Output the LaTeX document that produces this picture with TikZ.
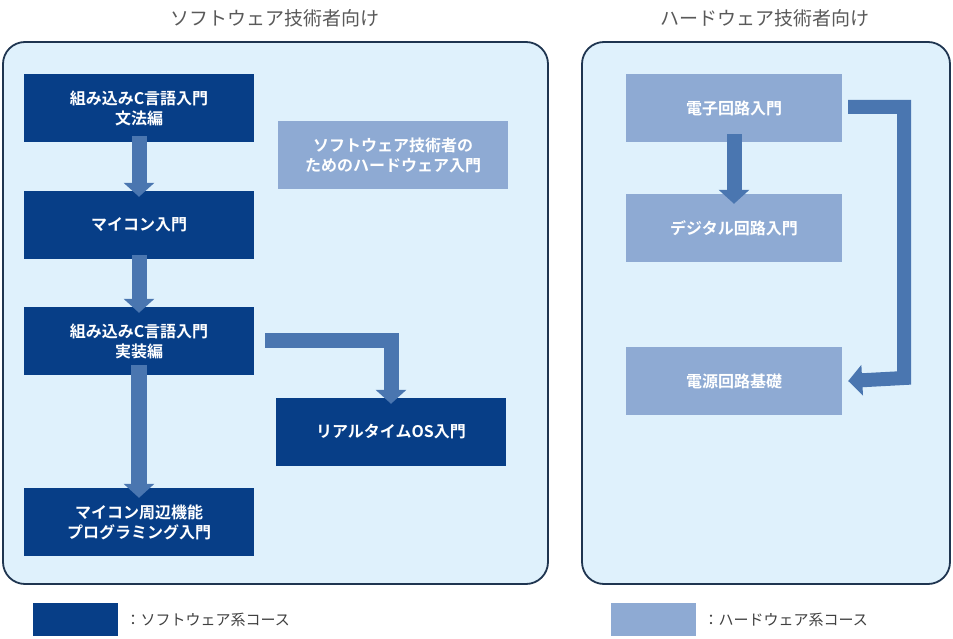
\documentclass[tikz,border=0pt]{standalone}
\usepackage{fontspec}
\newfontfamily\jp{Noto Sans CJK JP}
\newfontfamily\jpb{Noto Sans CJK JP Bold}
\usetikzlibrary{arrows.meta}
\definecolor{dk}{HTML}{073E87}
\definecolor{lt}{HTML}{8EAAD3}
\definecolor{ar}{HTML}{4A76B0}
\definecolor{pn}{HTML}{DFF1FC}
\definecolor{pb}{HTML}{1F3550}
\begin{document}
\begin{tikzpicture}[x=1pt,y=-1pt,
 panel/.style={draw=pb,line width=1.8pt,fill=pn,rounded corners=22pt},
 box/.style={minimum width=230pt,minimum height=68pt,align=center,text=white,font=\jpb\fontsize{16}{20}\selectfont,inner sep=0pt},
 dbox/.style={box,fill=dk},
 lbox/.style={box,fill=lt},
 barrow/.style={draw=ar,line width=15pt,-{Triangle[width=30pt,length=14pt]}},
 ttl/.style={text=black!65,font=\jp\fontsize{19}{22}\selectfont},
 leg/.style={text=black!75,font=\jp\fontsize{15}{18}\selectfont,anchor=west}]
\useasboundingbox (0,0) rectangle (953,639);
\draw[panel] (3,42) rectangle (548,584);
\draw[panel] (582,42) rectangle (950,584);
\node[ttl] (t1) at (275,18) {ソフトウェア技術者向け};
\node[ttl] (t2) at (765,18) {ハードウェア技術者向け};
\node[dbox] (a) at (139,108) {組み込みC言語入門\\文法編};
\node[dbox] (b) at (139,225) {マイコン入門};
\node[dbox] (c) at (139,341) {組み込みC言語入門\\実装編};
\node[dbox] (d) at (139,522) {マイコン周辺機能\\プログラミング入門};
\node[dbox] (e) at (391,432) {リアルタイムOS入門};
\node[lbox] (f) at (393,155) {ソフトウェア技術者の\\ためのハードウェア入門};
\node[lbox,minimum width=216pt] (g) at (734,108) {電子回路入門};
\node[lbox,minimum width=216pt] (h) at (734,228) {デジタル回路入門};
\node[lbox,minimum width=216pt] (i) at (734,381) {電源回路基礎};
\draw[barrow] ([yshift=6]a.south) -- ([yshift=-6]b.north);
\draw[barrow] ([yshift=4]b.south) -- ([yshift=-6]c.north);
\draw[barrow,line width=16pt] ([yshift=10]c.south) -- ([yshift=-10]d.north);
\coordinate (c1) at (265,340);
\draw[barrow] (c1) -| ([yshift=-6]e.north);
\coordinate (g1) at (848,107);
\coordinate (g2) at (904,107);
\draw[barrow] ([yshift=8]g.south) -- ([yshift=-10]h.north);
\draw[barrow,line width=14pt] (g1) -| (904,378) -- ([xshift=6]i.east);
\node[fill=dk,minimum width=85pt,minimum height=33pt,inner sep=0pt] (l1) at (75.5,619.5) {};
\node[leg] (l1t) at (122,619.5) {：ソフトウェア系コース};
\node[fill=lt,minimum width=85pt,minimum height=33pt,inner sep=0pt] (l2) at (653.5,619.5) {};
\node[leg] (l2t) at (700,619.5) {：ハードウェア系コース};
\end{tikzpicture}
\end{document}
